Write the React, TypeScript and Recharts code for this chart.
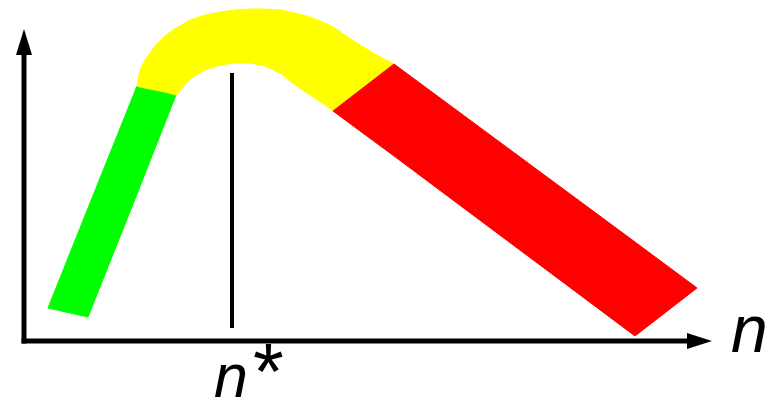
import { ComposedChart, Area, Line, XAxis, YAxis, ReferenceDot } from 'recharts';

// Coordinates: x measured from the vertical axis, y measured up from the horizontal axis
const greenBand = [
  { x: 24, v: [33, 33] },
  { x: 64, v: [24, 133] },
  { x: 113, v: [147, 255] },
  { x: 152, v: [246, 246] },
];

const yellowBand = [
  { x: 113, v: [255, 255] },
  { x: 116, v: [254, 271] },
  { x: 121, v: [253, 281] },
  { x: 131, v: [251, 295] },
  { x: 141, v: [249, 305] },
  { x: 152, v: [246, 313] },
  { x: 166, v: [262, 321] },
  { x: 181, v: [271, 326] },
  { x: 196, v: [276, 329] },
  { x: 211, v: [278, 331] },
  { x: 226, v: [278, 332] },
  { x: 241, v: [275, 332] },
  { x: 256, v: [268, 331] },
  { x: 271, v: [256, 328] },
  { x: 286, v: [246, 324] },
  { x: 301, v: [236, 318] },
  { x: 309, v: [230, 314] },
  { x: 321, v: [239, 306] },
  { x: 336, v: [250, 296] },
  { x: 351, v: [262, 287] },
  { x: 370, v: [277, 277] },
];

const redBand = [
  { x: 309, v: [230, 230] },
  { x: 370, v: [185, 277] },
  { x: 611, v: [5, 99] },
  { x: 673, v: [53, 53] },
];

const xAxisLine = [
  { x: 0, y: 0 },
  { x: 663, y: 0 },
];

const yAxisLine = [
  { x: 0, y: 0 },
  { x: 0, y: 286 },
];

const optimumLine = [
  { x: 208, y: 13 },
  { x: 208, y: 268 },
];

const labels = [
  { x: 707, y: -11, text: 'n', star: false, size: 66 },
  { x: 190, y: -56, text: 'n', star: true, size: 61 },
];

const arrowHead = (dir: 'up' | 'right', lastIndex: number) => (p: any) => {
  if (p.index !== lastIndex) return <g key={`d-${p.index}`} />;
  const { cx, cy } = p;
  const pts =
    dir === 'up'
      ? `${cx - 8},${cy} ${cx + 8},${cy} ${cx},${cy - 26}`
      : `${cx},${cy - 8} ${cx},${cy + 8} ${cx + 25},${cy}`;
  return <polygon key={`a-${p.index}`} points={pts} fill="#000" />;
};

export default function App() {
  return (
    <div style={{ position: 'absolute', left: 0, top: 0, width: 780, height: 403, background: '#fff' }}>
      <ComposedChart width={780} height={403} margin={{ top: 0, right: 0, bottom: 0, left: 0 }}>
        <XAxis type="number" dataKey="x" domain={[-24, 756]} allowDataOverflow hide />
        <YAxis type="number" domain={[-62, 341]} allowDataOverflow hide />

        <Area data={greenBand} type="linear" dataKey="v" fill="#00FF00" fillOpacity={1}
          stroke="#00FF00" strokeWidth={1} dot={false} activeDot={false} isAnimationActive={false} />
        <Area data={yellowBand} type="linear" dataKey="v" fill="#FFFF00" fillOpacity={1}
          stroke="#FFFF00" strokeWidth={1} dot={false} activeDot={false} isAnimationActive={false} />
        <Area data={redBand} type="linear" dataKey="v" fill="#FF0000" fillOpacity={1}
          stroke="#FF0000" strokeWidth={1} dot={false} activeDot={false} isAnimationActive={false} />

        <Line data={optimumLine} dataKey="y" stroke="#000" strokeWidth={4}
          dot={false} activeDot={false} isAnimationActive={false} />
        <Line data={yAxisLine} dataKey="y" stroke="#000" strokeWidth={5} strokeLinecap="square"
          dot={arrowHead('up', yAxisLine.length - 1)} activeDot={false} isAnimationActive={false} />
        <Line data={xAxisLine} dataKey="y" stroke="#000" strokeWidth={5} strokeLinecap="square"
          dot={arrowHead('right', xAxisLine.length - 1)} activeDot={false} isAnimationActive={false} />

        {labels.map((l) => (
          <ReferenceDot
            key={`${l.text}-${l.star}`}
            x={l.x}
            y={l.y}
            r={0}
            ifOverflow="visible"
            shape={(p: any) => (
              <text x={p.cx} y={p.cy} fontFamily="'Liberation Sans', Arial, sans-serif"
                fontStyle="italic" fontSize={l.size} fill="#000">
                {l.text}
                {l.star && <tspan fontSize={79} fontStyle="normal" dx={5} dy={2}>*</tspan>}
              </text>
            )}
          />
        ))}
      </ComposedChart>
    </div>
  );
}
